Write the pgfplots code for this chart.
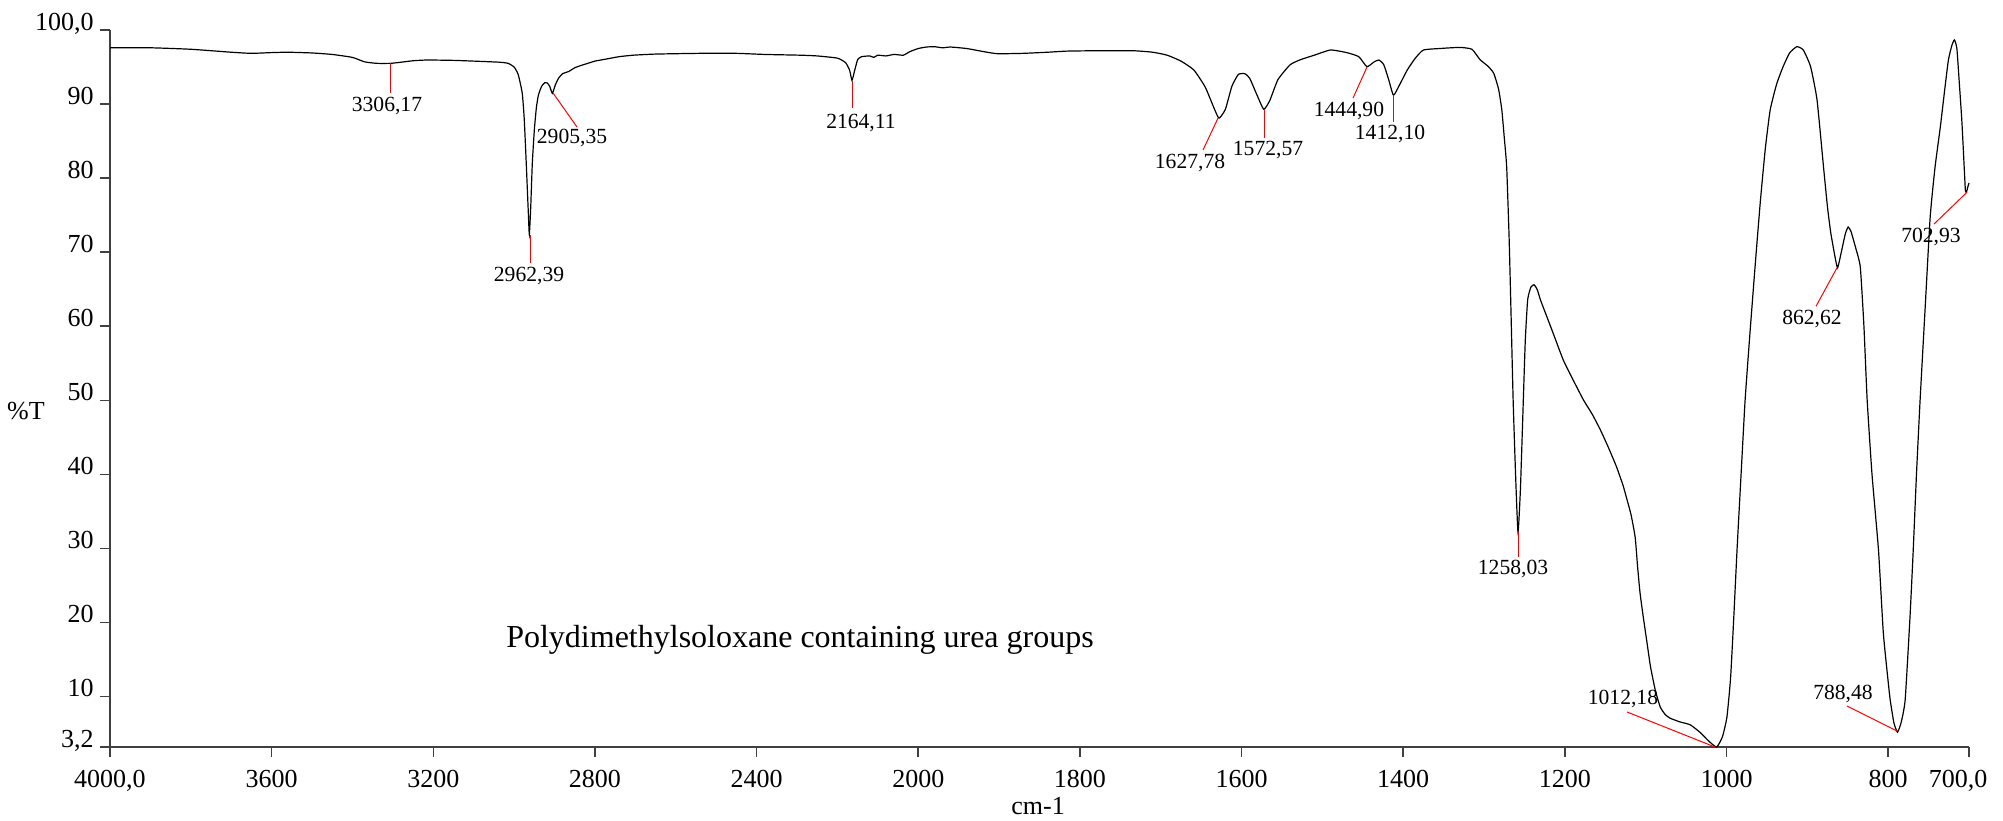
\documentclass[border=0pt]{standalone}
\usepackage{fontspec}
\setmainfont{Liberation Serif}
\usepackage{pgfplots}
\usepackage{pgfplotstable}
\pgfplotsset{compat=1.18}

\pgfplotstableread{
wn T
4000 97.6
3900 97.6
3800 97.4
3700 97.0
3650 96.85
3600 96.95
3560 97.0
3500 96.9
3450 96.7
3400 96.3
3370 95.7
3340 95.5
3306 95.5
3280 95.65
3250 95.85
3215 95.95
3150 95.9
3100 95.8
3035 95.65
3015 95.5
3000 95.0
2990 94.0
2980 91.5
2975 88.0
2970 82.0
2965 75.5
2962.4 72.4
2959 76.0
2955 82.0
2950 86.5
2945 89.5
2940 91.2
2932 92.4
2924 92.9
2918 92.85
2912 92.4
2905.4 91.45
2898 92.6
2890 93.5
2880 94.1
2865 94.4
2850 94.9
2835 95.2
2800 95.8
2780 96.0
2740 96.4
2705 96.6
2650 96.75
2540 96.85
2450 96.85
2380 96.7
2292 96.6
2250 96.5
2200 96.2
2180 95.6
2170 94.6
2164 93.2
2158 94.4
2150 96.0
2140 96.4
2120 96.5
2110 96.3
2100 96.6
2080 96.5
2060 96.7
2037 96.6
2020 97.1
2000 97.5
1990 97.7
1980 97.75
1970 97.6
1960 97.7
1940 97.5
1920 97.1
1902 96.8
1870 96.85
1840 97.0
1816 97.15
1780 97.2
1734 97.2
1710 97.0
1692 96.6
1675 95.8
1659 94.6
1645 92.3
1635 89.7
1628 88.1
1620 89.3
1612 92.4
1604 94.0
1596 94.1
1590 93.5
1582 91.5
1572.6 89.3
1565 90.5
1555 93.3
1540 95.3
1527 96.0
1510 96.6
1490 97.3
1470 96.95
1455 96.4
1444.9 95.05
1436 95.7
1430 95.95
1424 95.3
1418 93.3
1412.1 91.2
1405 92.5
1395 94.6
1385 96.2
1375 97.3
1355 97.5
1330 97.65
1315 97.4
1305 96.0
1295 95.1
1288 94.15
1282 92.0
1278 89.2
1275 85.5
1272 81.5
1269 72.0
1267 63.5
1264 50.0
1261 40.0
1258 32.2
1255 38.0
1252 48.0
1249 58.0
1246 63.6
1242 65.3
1238 65.6
1234 64.9
1230 63.5
1216 59.5
1202 55.45
1190 52.8
1177 50.05
1166 48.1
1156 46.0
1146 43.6
1136 41.0
1128 38.5
1123 36.55
1118 34.5
1113 31.5
1110 27.5
1107 24.0
1103 20.75
1098 17.0
1094 14.0
1088 10.8
1082 8.6
1076 7.6
1070 7.1
1058 6.6
1045 6.2
1033 5.2
1022 4.0
1012.2 3.2
1005 4.6
999.5 7.25
995 12.5
991 20.75
987 29.8
982 40.0
977 50.05
971 59.1
964 69.0
958 77.05
952 84.0
946 89.2
938 92.7
930 95.05
922 96.9
913 97.75
905 97.3
896 95.05
888 90.55
880 81.5
875 76.0
871 72.6
866 69.5
862.6 67.9
858 70.0
853 72.5
849.5 73.4
846 72.8
840 70.5
834.5 68.0
830 60.0
826 50.05
820 40.0
812 29.8
806 18.6
800 12.0
797.5 9.55
793 6.5
788.5 5.2
784 6.5
779 9.55
773 20.75
769 29.8
765 40.0
760.5 50.05
754 63.0
748 74.8
742 81.5
735.5 86.9
730 92.0
725.5 95.95
721 98.0
718 98.65
715 97.5
712 92.85
709 88.0
707 83.8
704.5 78.4
702.9 78.2
701.5 78.8
700 79.35
}\spectrum

\begin{document}
\begin{tikzpicture}
\useasboundingbox (-55pt,-36.5pt) rectangle (946.5pt,373.5pt);
\begin{axis}[
  at={(0,0)}, anchor=south west,
  scale only axis, width=929.5pt, height=358.5pt,
  xmin=0, xmax=4600, ymin=3.2, ymax=100,
  axis lines=left,
  axis line style={-, black!75, line width=0.8pt},
  tick align=outside, major tick length=5pt,
  tick style={black!75, line width=0.8pt},
  xtick={0,400,800,1200,1600,2000,2400,2800,3200,3600,4000,4400,4600},
  xticklabels={\textrm{4000,0},\textrm{3600},\textrm{3200},\textrm{2800},\textrm{2400},\textrm{2000},\textrm{1800},\textrm{1600},\textrm{1400},\textrm{1200},\textrm{1000},\textrm{800},\textrm{700,0\hspace*{11pt}}},
  ytick={3.2,10,20,30,40,50,60,70,80,90,100},
  yticklabels={\textrm{3,2},\textrm{10},\textrm{20},\textrm{30},\textrm{40},\textrm{50},\textrm{60},\textrm{70},\textrm{80},\textrm{90},\textrm{100,0}},
  xticklabel style={font=\fontsize{13}{15}\selectfont, anchor=base, inner sep=0pt, yshift=-15pt},
  yticklabel style={font=\fontsize{13}{15}\selectfont, anchor=base east, inner sep=0pt, xshift=-3pt},
  clip=false,
]
\addplot[black, line width=0.6pt, smooth, tension=0.3] table[x expr={\thisrow{wn}>=2000 ? 4000-\thisrow{wn} : 6000-2*\thisrow{wn}}, y=T] {\spectrum};

\begin{scope}[red, line width=0.5pt]
\draw (axis cs:695.3,95.55) -- (axis cs:695.3,91.5);
\draw (axis cs:1039.3,72.3) -- (axis cs:1039.3,68.5);
\draw (axis cs:1096.2,91.5) -- (axis cs:1155.6,86.9);
\draw (axis cs:1838.5,93.1) -- (axis cs:1838.5,89.5);
\draw (axis cs:2741.7,88.1) -- (axis cs:2704.6,83.8);
\draw (axis cs:2855.5,89.3) -- (axis cs:2855.5,85.4);
\draw (axis cs:3110.4,95.0) -- (axis cs:3075.7,90.8);
\draw (axis cs:3174.7,91.2) -- (axis cs:3174.7,87.6);
\draw (axis cs:3484.0,32.2) -- (axis cs:3484.0,28.85);
\draw (axis cs:3971.5,3.2) -- (axis cs:3753.7,7.93);
\draw (axis cs:4273.4,67.9) -- (axis cs:4221.4,62.7);
\draw (axis cs:4421.8,5.36) -- (axis cs:4298.1,8.74);
\draw (axis cs:4595.0,78.1) -- (axis cs:4513.4,73.8);
\end{scope}

\begin{scope}[every node/.style={font=\fontsize{10.8}{12}\selectfont, inner sep=0pt}]
\node at (axis cs:685.4,89.74) {3306,17};
\node at (axis cs:1036.8,66.79) {2962,39};
\node at (axis cs:1143.2,85.42) {2905,35};
\node at (axis cs:1858.3,87.44) {2164,11};
\node at (axis cs:2672.4,82.04) {1627,78};
\node at (axis cs:2865.4,83.80) {1572,57};
\node at (axis cs:3065.8,89.07) {1444,90};
\node at (axis cs:3167.3,85.96) {1412,10};
\node at (axis cs:3471.7,27.23) {1258,03};
\node at (axis cs:3743.8,9.68) {1012,18};
\node at (axis cs:4211.5,60.98) {862,62};
\node at (axis cs:4288.2,10.36) {788,48};
\node at (axis cs:4506.0,72.05) {702,93};
\end{scope}

\node[font=\fontsize{16}{19}\selectfont] at (axis cs:1707.4,17.65) {Polydimethylsoloxane containing urea groups};
\node[font=\fontsize{13}{15}\selectfont] at (rel axis cs:-0.0452,0.4686) {\%T};
\node[font=\fontsize{13}{15}\selectfont, anchor=base] at (rel axis cs:0.4992,-0.0948) {cm-1};
\end{axis}
\end{tikzpicture}
\end{document}
